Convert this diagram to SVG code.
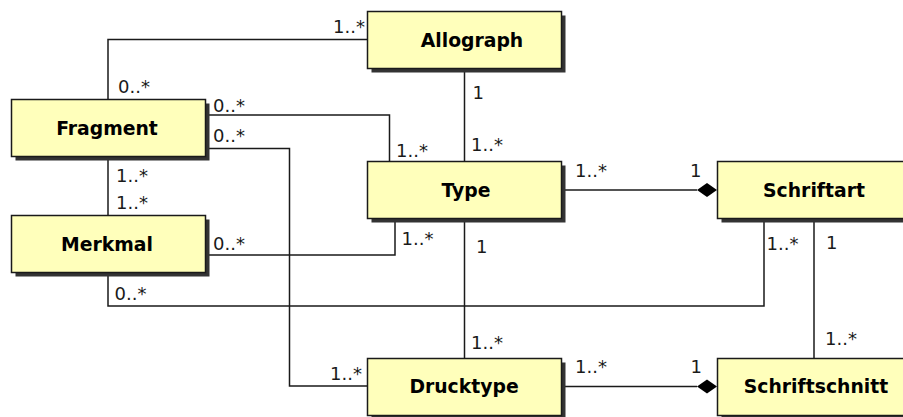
<svg xmlns="http://www.w3.org/2000/svg" width="903" height="417" viewBox="0 0 903 417">
<style>
.shadow{fill:#333333;}
.box{fill:#ffffbb;stroke:#1a1a1a;stroke-width:1.5;}
.name{font-family:"DejaVu Sans",sans-serif;font-weight:bold;font-size:18.8px;fill:#000;text-anchor:middle;}
.lbl{font-family:"DejaVu Sans",sans-serif;font-size:18px;fill:#1a1a1a;}
.conn{fill:none;stroke:#1a1a1a;stroke-width:1.5;}
.dia{fill:#000;stroke:none;}
</style>
<rect width="903" height="417" fill="#ffffff"/>
<g id="connectors">
<polyline class="conn" points="108,99 108,39.5 367,39.5"/>
<polyline class="conn" points="205,115 389.5,115 389.5,161"/>
<polyline class="conn" points="205,148.5 289.5,148.5 289.5,386 367,386"/>
<line class="conn" x1="108" y1="156" x2="108" y2="215"/>
<polyline class="conn" points="205,255 395,255 395,218"/>
<polyline class="conn" points="108,272 108,306 764,306 764,218"/>
<line class="conn" x1="464.5" y1="68" x2="464.5" y2="161"/>
<line class="conn" x1="561" y1="190" x2="697" y2="190"/>
<polygon class="dia" points="717,190 707,183 697,190 707,197"/>
<line class="conn" x1="464.5" y1="218" x2="464.5" y2="358"/>
<line class="conn" x1="814" y1="218" x2="814" y2="358"/>
<line class="conn" x1="561" y1="386.5" x2="697" y2="386.5"/>
<polygon class="dia" points="717,386.5 707,379.5 697,386.5 707,393.5"/>
<text class="lbl" x="333" y="33">1..*</text>
<text class="lbl" x="118" y="92.5">0..*</text>
<text class="lbl" x="213" y="111.5">0..*</text>
<text class="lbl" x="213" y="141.5">0..*</text>
<text class="lbl" x="396" y="156.5">1..*</text>
<text class="lbl" x="116" y="181.5">1..*</text>
<text class="lbl" x="116" y="208.5">1..*</text>
<text class="lbl" x="472.5" y="98.5">1</text>
<text class="lbl" x="471" y="151">1..*</text>
<text class="lbl" x="575" y="176.5">1..*</text>
<text class="lbl" x="690" y="176.5">1</text>
<text class="lbl" x="476" y="252.5">1</text>
<text class="lbl" x="766.5" y="250">1..*</text>
<text class="lbl" x="826" y="249">1</text>
<text class="lbl" x="213" y="250">0..*</text>
<text class="lbl" x="401.5" y="245">1..*</text>
<text class="lbl" x="114.5" y="300">0..*</text>
<text class="lbl" x="330" y="380">1..*</text>
<text class="lbl" x="471" y="349">1..*</text>
<text class="lbl" x="825" y="345">1..*</text>
<text class="lbl" x="575" y="372.5">1..*</text>
<text class="lbl" x="690.5" y="372.5">1</text>
</g>
<g id="Allograph">
<rect class="shadow" x="371.5" y="15.5" width="194" height="57"/>
<rect class="box" x="367.5" y="11.5" width="194" height="57"/>
<text class="name" x="472" y="47">Allograph</text>
</g>
<g id="Fragment">
<rect class="shadow" x="15.5" y="103.5" width="194" height="57"/>
<rect class="box" x="11.5" y="99.5" width="194" height="57"/>
<text class="name" x="107" y="135">Fragment</text>
</g>
<g id="Type">
<rect class="shadow" x="371.5" y="165.5" width="194" height="57"/>
<rect class="box" x="367.5" y="161.5" width="194" height="57"/>
<text class="name" x="466" y="197">Type</text>
</g>
<g id="Schriftart">
<rect class="shadow" x="721.5" y="165.5" width="194" height="57"/>
<rect class="box" x="717.5" y="161.5" width="194" height="57"/>
<text class="name" x="814" y="197">Schriftart</text>
</g>
<g id="Merkmal">
<rect class="shadow" x="15.5" y="219.5" width="194" height="57"/>
<rect class="box" x="11.5" y="215.5" width="194" height="57"/>
<text class="name" x="107" y="251">Merkmal</text>
</g>
<g id="Drucktype">
<rect class="shadow" x="371.5" y="362.5" width="194" height="57"/>
<rect class="box" x="367.5" y="358.5" width="194" height="57"/>
<text class="name" x="464" y="393">Drucktype</text>
</g>
<g id="Schriftschnitt">
<rect class="shadow" x="721.5" y="362.5" width="194" height="57"/>
<rect class="box" x="717.5" y="358.5" width="194" height="57"/>
<text class="name" x="816" y="393">Schriftschnitt</text>
</g>
</svg>
